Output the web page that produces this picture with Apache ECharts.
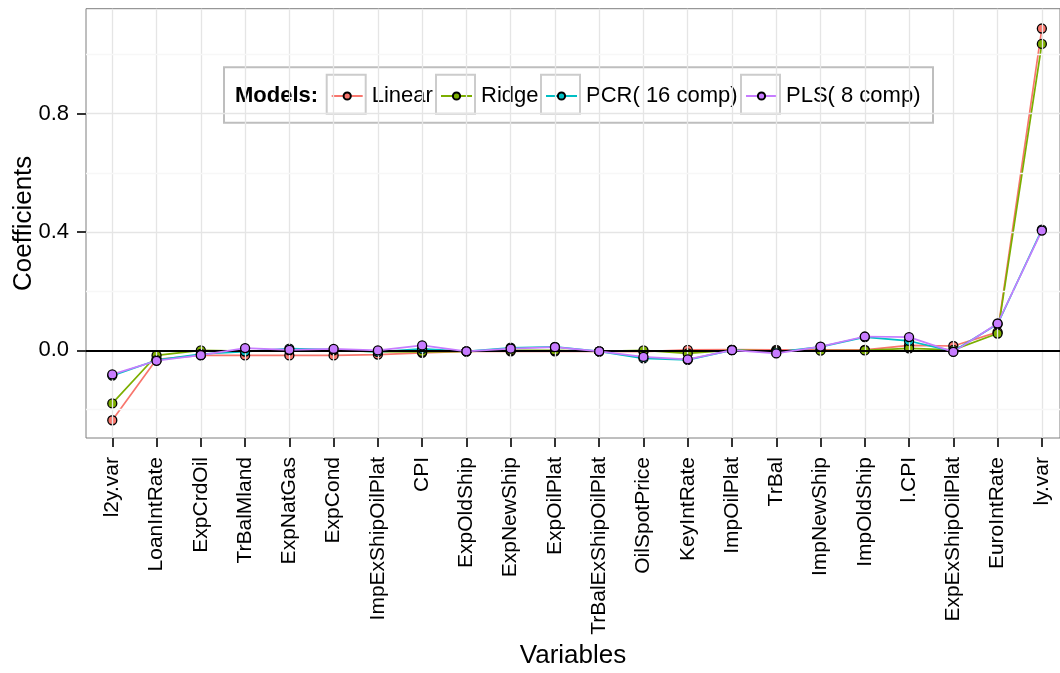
<!DOCTYPE html>
<html><head><meta charset="utf-8">
<script src="https://cdn.jsdelivr.net/npm/echarts@6/dist/echarts.min.js"></script>
<style>html,body{margin:0;padding:0;background:#fff}#c{width:1060px;height:673px}</style>
</head><body><div id="c"></div>
<script>
const categories = ['l2y.var','LoanIntRate','ExpCrdOil','TrBalMland','ExpNatGas','ExpCond','ImpExShipOilPlat','CPI','ExpOldShip','ExpNewShip','ExpOilPlat','TrBalExShipOilPlat','OilSpotPrice','KeyIntRate','ImpOilPlat','TrBal','ImpNewShip','ImpOldShip','l.CPI','ExpExShipOilPlat','EuroIntRate','ly.var'];
const linear = [-0.236,-0.030,-0.017,-0.017,-0.017,-0.017,-0.014,-0.008,-0.003,-0.003,-0.003,-0.003,-0.004,0.002,0.003,0.002,0.002,0.002,0.017,0.015,0.062,1.088];
const ridge  = [-0.179,-0.017,0.000,-0.002,0.000,0.000,-0.004,-0.005,-0.003,0.000,0.000,-0.003,0.000,-0.010,0.001,-0.002,-0.001,0.000,0.007,0.002,0.057,1.036];
const pcr    = [-0.085,-0.033,-0.012,-0.004,0.006,0.003,-0.005,0.005,-0.003,0.009,0.012,-0.003,-0.027,-0.032,0.001,-0.006,0.012,0.045,0.032,-0.003,0.089,0.408];
const pls    = [-0.081,-0.035,-0.016,0.008,0.002,0.005,0.000,0.017,-0.003,0.006,0.011,-0.003,-0.022,-0.030,0.001,-0.010,0.013,0.047,0.045,-0.005,0.091,0.405];
const seriesNames = ['Linear','Ridge','PCR( 16 comp)','PLS( 8 comp)'];
const yTickLabels = [0, 0.4, 0.8];
const yMinorGrid = [-0.2, 0.2, 0.6, 1.0];
const legendTitle = 'Models:';

const FONT = '"Liberation Sans", Arial, Helvetica, sans-serif';
const colors = ['#F8766D','#7CAE00','#00BFC4','#C77CFF'];
const values = [linear, ridge, pcr, pls];
const xIdx = categories.map((c, i) => i);

const gridLines = [];
xIdx.forEach(i => gridLines.push({xAxis: i, lineStyle: {color: '#E5E5E5', width: 1.3, type: 'solid'}}));
yMinorGrid.forEach(v => gridLines.push({yAxis: v, lineStyle: {color: '#F7F7F7', width: 1.3, type: 'solid'}}));
yTickLabels.filter(v => v !== 0).forEach(v => gridLines.push({yAxis: v, lineStyle: {color: '#E5E5E5', width: 1.3, type: 'solid'}}));
gridLines.push({yAxis: 0, lineStyle: {color: '#000', width: 1.8, type: 'solid'}});

const series = [{
  type: 'line', name: '_grid', data: [], silent: true, z: 1,
  markLine: {silent: true, symbol: ['none','none'], label: {show: false}, animation: false, data: gridLines}
}];
seriesNames.forEach((n, k) => {
  series.push({
    type: 'line', name: n, z: 2 + k,
    data: xIdx.map(i => [i, values[k][i]]),
    symbol: 'circle', symbolSize: 9,
    lineStyle: {color: colors[k], width: 1.7},
    itemStyle: {color: colors[k], borderColor: '#000', borderWidth: 1.3},
    emphasis: {disabled: true}
  });
});

const keyLeft = [326.7, 436, 541, 741];
const legends = seriesNames.map((n, k) => ({
  data: [n], left: keyLeft[k] + 4, top: 85, padding: 0,
  itemWidth: 31, itemHeight: 9, selectedMode: false,
  textStyle: {fontFamily: FONT, fontSize: 22, color: '#000', padding: [0,0,0,4]}
}));

const graphics = [{
  type: 'rect', z: 3, shape: {x: 224, y: 67.3, width: 709, height: 55.4},
  style: {fill: '#fff', stroke: '#BEBEBE', lineWidth: 2}
}];
keyLeft.forEach(x => graphics.push({
  type: 'rect', z: 3, shape: {x: x, y: 74.7, width: 39, height: 39},
  style: {fill: '#fff', stroke: '#CCCCCC', lineWidth: 2}
}));
graphics.push({
  type: 'text', z: 5, x: 235, y: 96,
  style: {text: legendTitle, fontFamily: FONT, fontSize: 22, fontWeight: 'bold', fill: '#000', verticalAlign: 'middle'}
});

const chart = echarts.init(document.getElementById('c'), null, {renderer: 'canvas'});
chart.setOption({
  animation: false,
  backgroundColor: '#fff',
  grid: {left: 86, top: 8.7, right: 0, bottom: 673 - 438, show: true, borderColor: '#7F7F7F', borderWidth: 1, backgroundColor: '#fff', containLabel: false, outerBoundsMode: 'none'},
  xAxis: {
    type: 'value', min: -0.594, max: 21.41,
    name: 'Variables', nameLocation: 'middle', nameGap: 205, nameMoveOverlap: false,
    nameTextStyle: {fontFamily: FONT, fontSize: 26, color: '#000'},
    axisLine: {show: false, onZero: false},
    splitLine: {show: false},
    axisTick: {show: true, customValues: xIdx, length: 9, lineStyle: {color: '#333', width: 2}},
    axisLabel: {customValues: xIdx, rotate: 90, margin: 19, fontFamily: FONT, fontSize: 21, color: '#000',
      formatter: v => categories[Math.round(v)]}
  },
  yAxis: {
    type: 'value', min: -0.296, max: 1.155,
    name: 'Coefficients', nameLocation: 'middle', nameGap: 49, nameRotate: 90, nameMoveOverlap: false,
    nameTextStyle: {fontFamily: FONT, fontSize: 26, color: '#000'},
    axisLine: {show: false, onZero: false},
    splitLine: {show: false},
    axisTick: {show: true, customValues: yTickLabels, length: 9, lineStyle: {color: '#333', width: 2}},
    axisLabel: {customValues: yTickLabels, margin: 17, fontFamily: FONT, fontSize: 22, color: '#000',
      formatter: v => v.toFixed(1)}
  },
  legend: legends,
  graphic: graphics,
  series: series
});
</script></body></html>
